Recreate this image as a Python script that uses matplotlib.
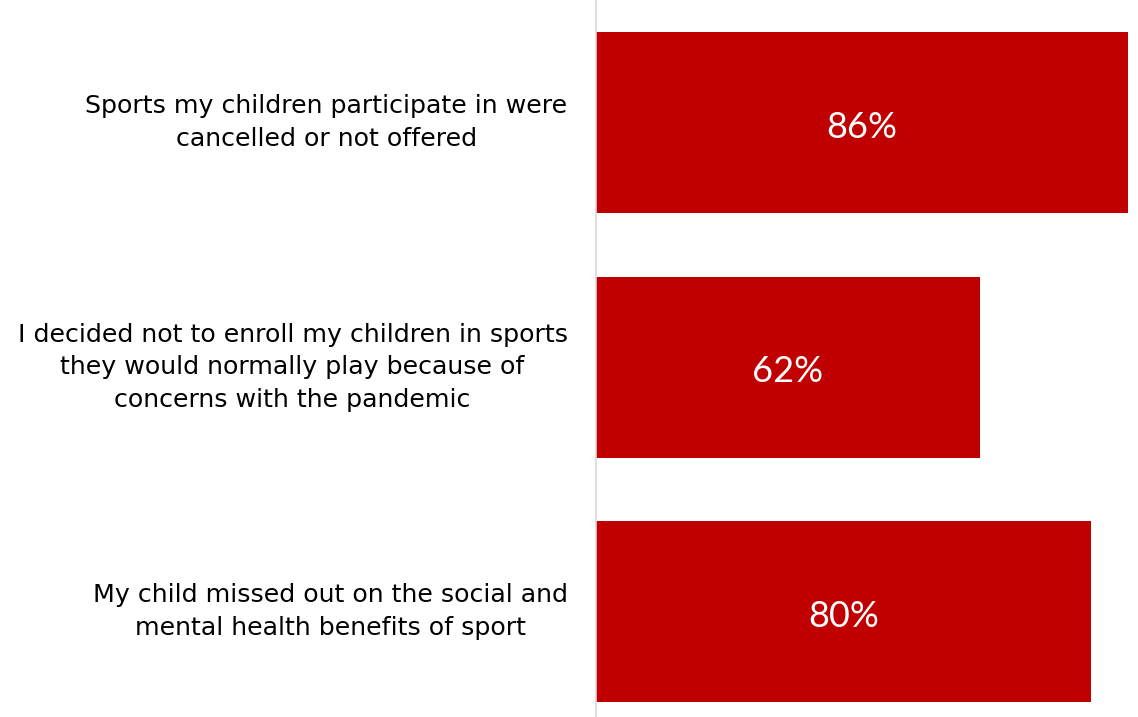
import matplotlib.pyplot as plt

# survey responses, share of parents agreeing
labels = [
    "Sports my children participate in were\ncancelled or not offered",
    "I decided not to enroll my children in sports\nthey would normally play because of\nconcerns with the pandemic",
    "My child missed out on the social and\nmental health benefits of sport",
]
values = [86, 62, 80]

plt.rcParams['font.family'] = ['DejaVu Sans']

fig = plt.figure(figsize=(11.38, 7.17), dpi=100)
ax = fig.add_axes([596 / 1138, 0, 542 / 1138, 1])

pos = list(range(len(values)))
ax.barh(pos, values, height=0.74, color="#c00000")
ax.set_xlim(0, 87.6)
ax.set_ylim(2.43, -0.5)

for y, v, lab in zip(pos, values, labels):
    ax.text(v / 2, y + 0.02, f"{v}%", color="white", fontsize=26,
            ha="center", va="center", family="Lato")
    ax.text(-4.6, y, lab, fontsize=18.2, ha="right", va="center",
            multialignment="center", linespacing=1.45, color="black")

for s in ["top", "right", "bottom"]:
    ax.spines[s].set_visible(False)
ax.spines["left"].set_color("#d9d9d9")
ax.spines["left"].set_linewidth(1.2)
ax.set_xticks([])
ax.set_yticks([])

fig.savefig("out.png", dpi=100)
